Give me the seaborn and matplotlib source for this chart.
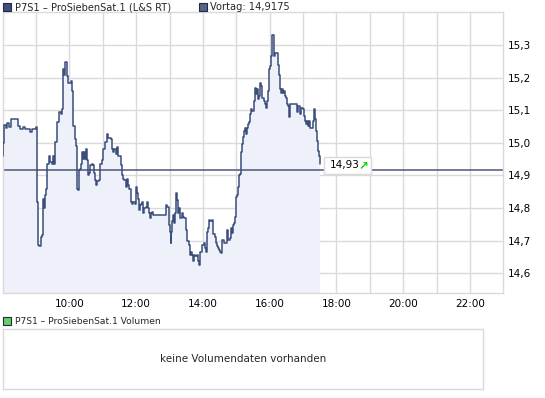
import numpy as np
import pandas as pd
import matplotlib
matplotlib.use("Agg")
import matplotlib.pyplot as plt
from matplotlib.patches import Rectangle
from matplotlib.ticker import FixedLocator, FuncFormatter
import seaborn as sns

# %%--  Data (minutes after 08:00, price in EUR)
minutes = [0, 1, 1.5, 5.3, 7.1, 11.3, 14.9, 28.1, 31.1, 37.1, 40.1, 49.1, 52.1, 59.9,
           61.1, 64.1, 65.9, 68.3, 70.1, 71.9, 73.1, 74.9, 76.1, 77.9, 80.3, 83.3, 85.1,
           88.1, 89.9, 92.3, 94.1, 97.1, 101.9, 104.3, 106.1, 107.9, 109.1, 110.9, 112.7,
           115.1, 116.9, 122.3, 124.1, 125.9, 127.1, 129.5, 131.9, 133.1, 134.3, 136.1,
           137.3, 139.1, 140.9, 143.3, 145.1, 146.9, 148.7, 149.9, 151.7, 153.5, 155.3,
           157.1, 160.1, 161.9, 164.3, 166.1, 167.9, 170.3, 173.3, 175.1, 178.1, 181.1,
           184.1, 187.1, 190.1, 194.9, 197.3, 199.1, 200.9, 203.3, 205.1, 208.1, 212.9,
           215.3, 217.1, 218.9, 221.3, 223.1, 224.9, 227.3, 230.3, 232.1, 235.1, 238.1,
           239.9, 242.3, 244.1, 245.9, 247.7, 249.5, 251.3, 253.1, 254.9, 257.3, 259.1,
           260.9, 263.3, 265.1, 266.9, 269.3, 271.1, 290.9, 292.7, 295.1, 298.1, 299.9,
           301.7, 302.9, 304.1, 305.9, 307.1, 309.5, 311.9, 313.7, 315.5, 317.3, 319.1,
           321.5, 323.3, 325.1, 329.3, 331.7, 334.1, 335.9, 337.7, 339.5, 341.3, 343.1,
           346.1, 349.1, 351.5, 353.3, 355.1, 358.7, 361.1, 362.9, 365.3, 367.1, 368.9,
           370.7, 373.1, 376.1, 377.9, 382.1, 383.9, 385.1, 386.9, 389.3, 391.1, 392.9,
           394.7, 397.1, 403.1, 404.9, 409.1, 410.9, 412.7, 413.9, 415.1, 416.9, 418.7,
           421.1, 422.9, 424.7, 426.5, 428.3, 430.1, 431.9, 434.3, 436.1, 437.9, 439.7,
           441.5, 443.3, 445.1, 446.9, 448.7, 451.1, 453.5, 455.3, 457.1, 458.9, 460.7,
           462.5, 464.3, 466.1, 469.7, 471.5, 473.3, 475.1, 476.9, 478.7, 480.5, 482.3,
           484.1, 487.7, 490.1, 494.9, 496.7, 498.5, 500.3, 502.1, 503.9, 505.7, 507.5,
           509.9, 511.7, 513.5, 515.3, 516.5, 527.9, 529.7, 531.5, 535.1, 536.9, 539.3,
           541.1, 542.9, 544.7, 547.1, 548.9, 550.7, 552.5, 556.7, 558.5, 559.7, 561.5,
           563.3, 565.1, 566.9, 568.7, 569.9, 571.1]
prices = [14.96, 15.00, 15.054, 15.044, 15.060, 15.050, 15.073, 15.052, 15.042, 15.049,
          15.042, 15.034, 15.042, 15.050, 14.819, 14.687, 14.684, 14.713, 14.718, 14.779,
          14.829, 14.799, 14.840, 14.860, 14.936, 14.959, 14.941, 14.936, 14.961, 14.936,
          15.002, 15.064, 15.093, 15.088, 15.103, 15.166, 15.227, 15.209, 15.247, 15.204,
          15.184, 15.189, 15.159, 15.073, 15.052, 15.012, 14.991, 14.926, 14.860, 14.855,
          14.916, 14.921, 14.936, 14.971, 14.951, 14.971, 14.951, 14.981, 14.946, 14.902,
          14.909, 14.931, 14.936, 14.931, 14.909, 14.885, 14.872, 14.882, 14.885, 14.936,
          14.946, 14.981, 15.002, 15.027, 15.014, 15.011, 14.981, 14.971, 14.981, 14.966,
          14.987, 14.959, 14.931, 14.900, 14.890, 14.885, 14.865, 14.890, 14.870, 14.860,
          14.819, 14.814, 14.819, 14.814, 14.865, 14.845, 14.829, 14.794, 14.809, 14.814,
          14.819, 14.784, 14.799, 14.804, 14.819, 14.799, 14.784, 14.769, 14.784, 14.789,
          14.779, 14.779, 14.809, 14.804, 14.748, 14.728, 14.693, 14.728, 14.759, 14.779,
          14.754, 14.784, 14.845, 14.824, 14.784, 14.799, 14.769, 14.784, 14.774, 14.769,
          14.733, 14.698, 14.687, 14.657, 14.667, 14.657, 14.637, 14.657, 14.652, 14.657,
          14.637, 14.627, 14.667, 14.687, 14.693, 14.677, 14.667, 14.728, 14.738, 14.764,
          14.759, 14.764, 14.721, 14.713, 14.693, 14.683, 14.677, 14.672, 14.667, 14.664,
          14.703, 14.693, 14.733, 14.703, 14.708, 14.738, 14.723, 14.748, 14.754, 14.774,
          14.835, 14.840, 14.865, 14.900, 14.905, 14.971, 14.997, 15.017, 15.037, 15.045,
          15.027, 15.047, 15.057, 15.063, 15.088, 15.103, 15.098, 15.128, 15.169, 15.149,
          15.164, 15.133, 15.143, 15.184, 15.174, 15.138, 15.128, 15.118, 15.108, 15.128,
          15.159, 15.225, 15.235, 15.265, 15.329, 15.265, 15.275, 15.240, 15.209, 15.164,
          15.154, 15.164, 15.154, 15.159, 15.143, 15.138, 15.120, 15.113, 15.078, 15.118,
          15.118, 15.093, 15.113, 15.088, 15.108, 15.103, 15.083, 15.068, 15.057, 15.068,
          15.052, 15.068, 15.047, 15.047, 15.068, 15.105, 15.073, 15.037, 15.007, 14.976,
          14.961, 14.946, 14.936]
prev_close = 14.9175
last_label = "14,93"
y_ticks = [14.6, 14.7, 14.8, 14.9, 15.0, 15.1, 15.2, 15.3]
x_label_hours = [10, 12, 14, 16, 18, 20, 22]
title_main = "P7S1 \u2013 ProSiebenSat.1 (L&S RT)"
title_prev = "Vortag: 14,9175"
title_vol = "P7S1 \u2013 ProSiebenSat.1 Volumen"
no_vol_text = "keine Volumendaten vorhanden"
# %%-

df = pd.DataFrame({"hour": 8 + np.array(minutes) / 60.0, "price": prices})

sns.set_style("white")
plt.rcParams["font.family"] = ["DejaVu Sans"]
LINE = "#3b4d7a"
FILL = "#eef1fa"
GRID = "#dadada"
FS = 7.5

W, H = 545, 398
fig = plt.figure(figsize=(W / 100, H / 100), dpi=100)

def fx(px): return px / W
def fy(py): return 1 - py / H

ax = fig.add_axes([fx(2.7), fy(293.3), fx(503.3 - 2.7), (293.3 - 12.3) / H])
ax.set_xlim(8, 23)
ax.set_ylim(14.539, 15.4)

ax.fill_between(df["hour"], df["price"], 14.539, step="post", color=FILL, lw=0, zorder=1)
sns.lineplot(data=df, x="hour", y="price", estimator=None, drawstyle="steps-post",
             color=LINE, lw=1.1, ax=ax, zorder=3)
ax.axhline(prev_close, color="#4c567a", lw=1.1, zorder=2)

# grid: every hour / every 0.1
ax.xaxis.set_major_locator(FixedLocator(x_label_hours))
ax.xaxis.set_minor_locator(FixedLocator(list(range(9, 23))))
ax.xaxis.set_major_formatter(FuncFormatter(lambda v, p: "%d:00" % v))
ax.yaxis.set_major_locator(FixedLocator(y_ticks))
ax.yaxis.set_major_formatter(FuncFormatter(lambda v, p: ("%.1f" % v).replace(".", ",")))
ax.grid(True, which="both", color=GRID, lw=1, zorder=0)
ax.set_axisbelow(True)
ax.yaxis.tick_right()
ax.tick_params(axis="both", which="both", length=0, labelsize=FS, colors="black")
ax.tick_params(axis="x", pad=4)
ax.tick_params(axis="y", pad=3)
ax.set_xlabel("")
ax.set_ylabel("")
for s in ax.spines.values():
    s.set_color(GRID)
    s.set_linewidth(1)

# last price label: white box with value and green arrow
last_h = df["hour"].iloc[-1]
last_p = df["price"].iloc[-1]
px, py = ax.transData.transform((last_h, last_p))
box = Rectangle((px + 4, py - 10), 47, 17, transform=None,
                fc="white", ec=GRID, lw=1, zorder=5, clip_on=False)
ax.add_patch(box)
ax.annotate(last_label, xy=(last_h, last_p), xytext=(9, -1.5), textcoords="offset pixels",
            ha="left", va="center", fontsize=FS, color="black", zorder=6)
ax.annotate("\u2197", xy=(last_h, last_p), xytext=(38, -1.5), textcoords="offset pixels",
            ha="left", va="center", fontsize=FS + 1, color="#00dd00", fontweight="bold", zorder=6)

# header legend
fig.patches.append(Rectangle((fx(3), fy(11)), fx(8), 8 / H, transform=fig.transFigure,
                             fc="#3e5080", ec="#222a40", lw=0.8))
fig.text(fx(15), fy(7), title_main, fontsize=7.1, va="center", ha="left")
fig.patches.append(Rectangle((fx(199), fy(11)), fx(8), 8 / H, transform=fig.transFigure,
                             fc="#5a6285", ec="#222a40", lw=0.8))
fig.text(fx(210), fy(7), title_prev, fontsize=7.1, va="center", ha="left")

# volume panel
fig.patches.append(Rectangle((fx(3), fy(325)), fx(8), 8 / H, transform=fig.transFigure,
                             fc="#66d066", ec="#222a40", lw=0.8))
fig.text(fx(15), fy(321), title_vol, fontsize=6.6, va="center", ha="left")
vax = fig.add_axes([fx(2.7), fy(389), fx(483 - 2.7), (389 - 329) / H])
vax.set_xticks([])
vax.set_yticks([])
for s in vax.spines.values():
    s.set_color(GRID)
    s.set_linewidth(1)
vax.text(0.5, 0.5, no_vol_text, transform=vax.transAxes, ha="center", va="center", fontsize=FS)

fig.savefig("out.png", dpi=100)
